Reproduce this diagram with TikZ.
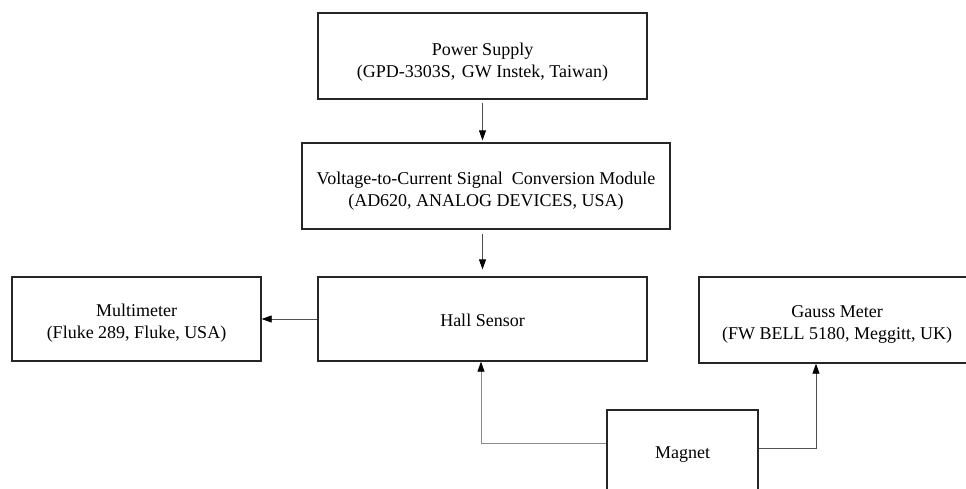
\documentclass[tikz,border=0pt]{standalone}
\usepackage{fontspec}
\setmainfont{Liberation Serif}
\usetikzlibrary{arrows.meta}
\definecolor{boxline}{HTML}{262626}
\definecolor{wireline}{HTML}{505050}
\definecolor{wirelight}{HTML}{8C8C8C}

\begin{document}
\begin{tikzpicture}[
    x=1pt, y=-1pt,
    block/.style={draw=boxline, line width=1.3pt, align=center, inner sep=0pt,
        font=\fontsize{18}{22}\selectfont},
    textdrop/.style={execute at begin node={\rule{0pt}{#1}}},
    wire/.style={draw=wireline, line width=0.8pt, -{Triangle[length=10pt, width=7pt, color=black]}}
]

    % Page frame, cut at the edges like the original
    \useasboundingbox (0,0) rectangle (966,488);
    \clip (0,0) rectangle (966,488);

    % Main chain (centre column)
    \node[block, textdrop=47pt, minimum width=329pt, minimum height=86pt] (power) at (482.5,56)
        {Power Supply\\(GPD-3303S,\hspace{2pt} GW Instek, Taiwan)};
    \node[block, textdrop=45pt, minimum width=368pt, minimum height=86pt] (conv) at (486,186)
        {Voltage-to-Current Signal\ \ Conversion Module\\(AD620, ANALOG DEVICES, USA)};
    \node[block, textdrop=16pt, minimum width=329pt, minimum height=84pt] (hall) at (482.5,319)
        {Hall Sensor};

    % Side instruments
    \node[block, textdrop=43pt, minimum width=249pt, minimum height=84pt] (multi) at (136.5,319)
        {Multimeter\\(Fluke 289, Fluke, USA)};
    \node[block, textdrop=43pt, minimum width=276pt, minimum height=86pt] (gauss) at (837,320)
        {Gauss Meter\\(FW BELL 5180, Meggitt, UK)};
    \node[block, textdrop=16pt, minimum width=151pt, minimum height=84pt] (magnet) at (682.5,452)
        {Magnet};

    % Connectors
    \draw[wire, shorten <=3pt, shorten >=2pt] (power.south) -- (power.south |- conv.north);
    \draw[wire, shorten <=4pt, shorten >=7pt] (hall.north |- conv.south) -- (hall.north);
    \draw[wire] (hall) -- (multi);
    \draw[wire, draw=wirelight] ([yshift=9pt]magnet.west) -| ([xshift=-1.5pt]hall.south);
    \draw[wire] ([yshift=4pt]magnet.east) -| ([xshift=-21pt]gauss.south);

\end{tikzpicture}
\end{document}
